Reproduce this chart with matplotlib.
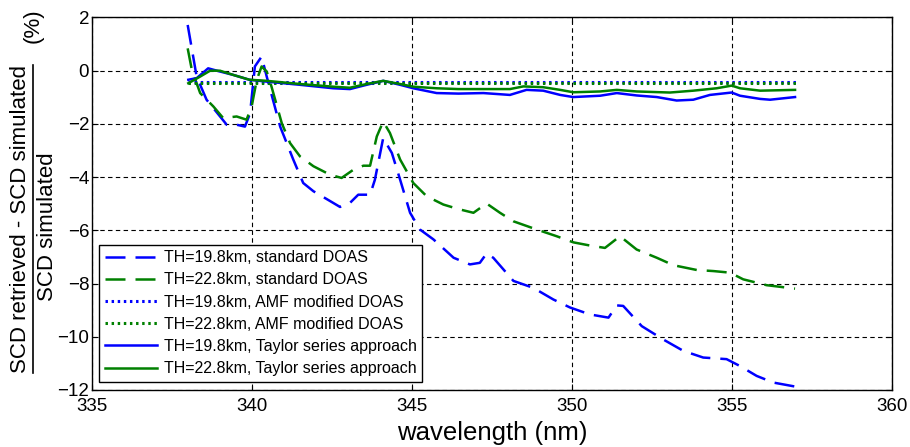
import numpy as np
import matplotlib
matplotlib.use("Agg")
import matplotlib.pyplot as plt
from matplotlib.lines import Line2D

plt.rcParams["font.family"] = ["Liberation Sans", "DejaVu Sans"]

# ---- data ----
x_b_std = [337.99, 338.27, 338.58, 339.21, 339.52, 339.78, 339.94, 340.09, 340.3, 340.46,
           340.88, 341.29, 341.6, 341.92, 342.54, 342.75, 343.06, 343.32, 343.69, 343.84,
           344.1, 344.37, 344.63, 344.94, 345.25, 345.67, 346.3, 346.81, 347.12, 347.33,
           347.54, 348.17, 348.79, 349.42, 349.94, 350.56, 351.14, 351.4, 351.6, 352.18,
           352.85, 353.48, 354.1, 354.83, 355.25, 355.77, 356.29, 356.97]
y_b_std = [1.72, -0.22, -1.09, -2.03, -2.03, -2.1, -1.6, 0.16, 0.53, -0.22,
           -2.1, -3.34, -4.22, -4.53, -4.97, -5.12, -4.97, -4.66, -4.66, -4.1,
           -2.53, -3.09, -4.1, -5.34, -5.97, -6.34, -7.03, -7.28, -7.22, -6.87,
           -7.03, -7.9, -8.16, -8.6, -8.9, -9.16, -9.28, -8.82, -8.84, -9.6,
           -10.1, -10.53, -10.78, -10.84, -11.1, -11.47, -11.72, -11.87]

x_g_std = [337.99, 338.12, 338.38, 338.79, 339.1, 339.52, 339.83, 339.99, 340.15, 340.3,
           340.46, 340.61, 340.93, 341.19, 341.5, 341.92, 342.44, 342.8, 343.17, 343.48,
           343.69, 343.9, 344.1, 344.31, 344.63, 345.04, 345.46, 345.98, 346.45, 346.92,
           347.33, 347.75, 348.17, 348.9, 349.52, 350.04, 350.56, 351.03, 351.5, 352.02,
           352.65, 353.17, 353.9, 354.42, 354.94, 355.35, 356.08, 356.97]
y_g_std = [0.84, 0.03, -0.84, -1.34, -1.78, -1.72, -1.84, -1.34, -0.34, 0.16,
           -0.03, -0.6, -1.97, -2.72, -3.22, -3.59, -3.91, -4.03, -3.72, -3.57,
           -3.57, -2.47, -1.91, -2.34, -3.34, -4.22, -4.72, -5.03, -5.2, -5.34,
           -4.99, -5.34, -5.66, -5.97, -6.22, -6.45, -6.57, -6.66, -6.22, -6.72,
           -7.03, -7.31, -7.49, -7.53, -7.59, -7.84, -8.06, -8.19]

x_amf = [338.0, 357.0]
y_b_amf = [-0.42, -0.42]
y_g_amf = [-0.45, -0.45]

x_b_tay = [338.01, 338.27, 338.63, 339.0, 339.42, 339.92, 340.46, 341.5, 342.54, 343.06,
           343.58, 344.1, 344.63, 345.04, 345.77, 346.45, 347.23, 348.06, 348.58, 349.1,
           349.63, 350.04, 350.88, 351.4, 352.02, 352.65, 353.27, 353.79, 354.31, 354.99,
           355.25, 355.88, 356.19, 356.97]
y_b_tay = [-0.34, -0.28, 0.09, -0.03, -0.16, -0.34, -0.41, -0.53, -0.66, -0.69,
           -0.53, -0.38, -0.53, -0.66, -0.84, -0.86, -0.84, -0.91, -0.72, -0.75,
           -0.91, -0.99, -0.94, -0.84, -0.93, -0.99, -1.12, -1.09, -0.91, -0.82,
           -0.94, -1.06, -1.09, -0.99]

x_g_tay = [338.01, 338.38, 338.69, 339.0, 339.42, 339.92, 340.46, 341.5, 342.54, 343.06,
           343.58, 344.1, 344.63, 345.04, 345.77, 346.45, 347.23, 348.06, 348.48, 349.1,
           349.63, 350.04, 350.88, 351.4, 352.02, 353.06, 353.79, 354.52, 354.99, 355.25,
           355.88, 356.97]
y_g_tay = [-0.47, -0.22, 0.0, 0.0, -0.16, -0.34, -0.38, -0.5, -0.6, -0.64,
           -0.5, -0.38, -0.5, -0.6, -0.66, -0.69, -0.69, -0.69, -0.59, -0.62,
           -0.72, -0.81, -0.78, -0.72, -0.78, -0.82, -0.75, -0.66, -0.56, -0.66,
           -0.75, -0.72]

labels = ["TH=19.8km, standard DOAS", "TH=22.8km, standard DOAS",
          "TH=19.8km, AMF modified DOAS", "TH=22.8km, AMF modified DOAS",
          "TH=19.8km, Taylor series approach", "TH=22.8km, Taylor series approach"]

blue = (0, 0, 1)
green = (0, 0.5, 0)

# ---- figure ----
fig = plt.figure(figsize=(9.1, 4.47), dpi=100)
ax = fig.add_axes([92 / 910, 1 - 390 / 447, 800 / 910, 372.5 / 447])

ax.plot(x_b_std, y_b_std, color=blue, lw=1.8, dashes=(8, 4), label=labels[0])
ax.plot(x_g_std, y_g_std, color=green, lw=1.8, dashes=(8, 4), label=labels[1])
ax.plot(x_amf, y_b_amf, color=blue, lw=2.2, dashes=(0.8, 1.2), label=labels[2])
ax.plot(x_amf, y_g_amf, color=green, lw=2.2, dashes=(0.8, 1.2), label=labels[3])
ax.plot(x_b_tay, y_b_tay, color=blue, lw=1.8, label=labels[4])
ax.plot(x_g_tay, y_g_tay, color=green, lw=1.8, label=labels[5])

ax.set_xlim(335, 360)
ax.set_ylim(-12, 2)
ax.set_xticks(np.arange(335, 361, 5))
ax.set_yticks(np.arange(-12, 3, 2))
ax.grid(True, color="black", lw=0.8, dashes=(4, 3))
ax.tick_params(direction="in", length=4, top=True, right=True, labelsize=13.5)
ax.tick_params(axis="x", pad=6)
ax.tick_params(axis="y", pad=2)
for s in ax.spines.values():
    s.set_linewidth(1.0)

# x label placed by hand, just above the bottom edge
fig.text(492 / 910, 1 - 440 / 447, "wavelength (nm)", ha="center", va="baseline",
         fontsize=18.5)

leg = ax.legend(loc="lower left", bbox_to_anchor=(0.009, 0.022), borderaxespad=0,
                fontsize=11.5, handlelength=3.3, handletextpad=0.4, labelspacing=0.45,
                fancybox=False, framealpha=1, edgecolor="black", borderpad=0.35)
leg.get_frame().set_linewidth(1.0)

# ---- y label as a fraction with underline ----
t1 = fig.text(21 / 910, 1 - 219 / 447, "SCD retrieved - SCD simulated", rotation=90,
              ha="center", va="center", fontsize=16)
t2 = fig.text(48 / 910, 1 - 227 / 447, "SCD simulated", rotation=90,
              ha="center", va="center", fontsize=16)
fig.text(33 / 910, 1 - 26 / 447, "(%)", rotation=90, ha="center", va="center", fontsize=16)

fig.canvas.draw()
bb = t1.get_window_extent()
ux = (bb.x1 + 1) / 910
fig.add_artist(Line2D([ux, ux], [bb.y0 / 447, bb.y1 / 447], color="black", lw=1.2,
                      transform=fig.transFigure))

fig.savefig("out.png", dpi=100)
